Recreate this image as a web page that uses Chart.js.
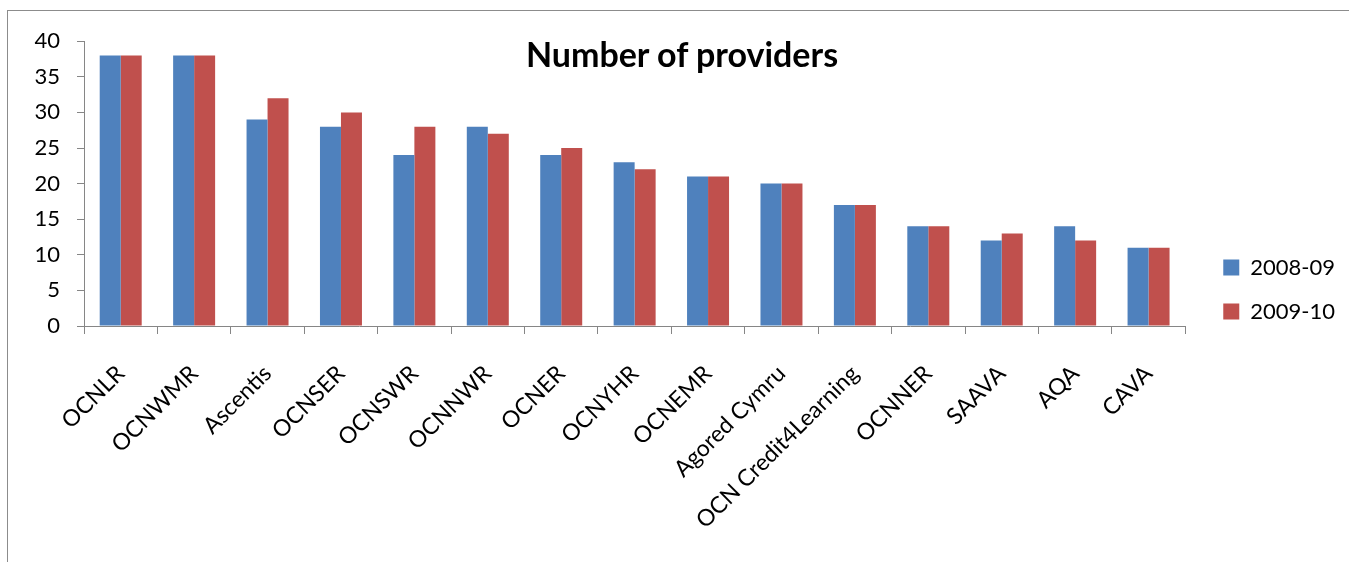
<!DOCTYPE html>
<html>
<head>
<meta charset="utf-8">
<script src="https://cdn.jsdelivr.net/npm/chart.js@4.4.1/dist/chart.umd.min.js"></script>
<style>
  html, body { margin: 0; padding: 0; background: #fff; overflow: hidden; }
  body { width: 1349px; height: 562px; position: relative; }
  #frame {
    position: absolute; left: 7px; top: 10px;
    width: 1400px; height: 600px;
    border: 1px solid #8c8c8c; box-sizing: border-box;
  }
  #chart { position: absolute; left: 0; top: 0; }
  #title {
    position: absolute; left: 0; width: 1364px; top: 35px;
    text-align: center; font: bold 34px Lato; line-height: 38px; color: #000;
  }
</style>
</head>
<body>
<div id="frame">
  <canvas id="chart" width="1341" height="551"></canvas>
</div>
<div id="title">Number of providers</div>
<script>
// ================================
// DATA
// ================================
const providers = [
  "OCNLR", "OCNWMR", "Ascentis", "OCNSER", "OCNSWR", "OCNNWR", "OCNER",
  "OCNYHR", "OCNEMR", "Agored Cymru", "OCN Credit4Learning", "OCNNER",
  "SAAVA", "AQA", "CAVA"
];
const providers0809 = [38, 38, 29, 28, 24, 28, 24, 23, 21, 20, 17, 14, 12, 14, 11];
const providers0910 = [38, 38, 32, 30, 28, 27, 25, 22, 21, 20, 17, 14, 13, 12, 11];
const yTicks = [0, 5, 10, 15, 20, 25, 30, 35, 40];

// ================================
// STYLE
// ================================
const AXIS = "#868686";
const FONT = { family: "Lato", size: 22 };

// shift the legend into place (Excel puts it further right than Chart.js does)
const legendNudge = {
  id: "legendNudge",
  afterLayout(chart) {
    const lg = chart.legend;
    lg.left += 16; lg.right += 16;
    lg.top -= 11; lg.bottom -= 11;
  }
};

const ctx = document.getElementById("chart").getContext("2d");

new Chart(ctx, {
  type: "bar",
  data: {
    labels: providers,
    datasets: [
      { label: "2008-09", data: providers0809, backgroundColor: "#4F81BD" },
      { label: "2009-10", data: providers0910, backgroundColor: "#C0504D" }
    ]
  },
  options: {
    responsive: false,
    animation: false,
    categoryPercentage: 0.572,
    barPercentage: 1,
    layout: { padding: { top: 28, right: 20, bottom: 0, left: 0 } },
    plugins: {
      tooltip: { enabled: false },
      legend: {
        position: "right",
        labels: {
          boxWidth: 16,
          boxHeight: 16,
          padding: 22,
          color: "#000",
          font: FONT
        }
      }
    },
    scales: {
      x: {
        grid: { drawOnChartArea: false, tickLength: 8, color: AXIS, offset: true },
        border: { color: AXIS },
        ticks: {
          autoSkip: false,
          minRotation: 45,
          maxRotation: 45,
          color: "#000",
          font: { family: "Lato", size: 23 },
          padding: 26,
          labelOffset: 0
        },
        afterFit(scale) { scale.height = 236; }
      },
      y: {
        min: 0,
        max: 40,
        afterBuildTicks(scale) { scale.ticks = yTicks.map(v => ({ value: v })); },
        grid: { drawOnChartArea: false, tickLength: 7, color: AXIS },
        border: { color: AXIS },
        ticks: { color: "#000", font: FONT, padding: 17 },
        afterFit(scale) { scale.width = 76; }
      }
    }
  },
  plugins: [legendNudge]
});
</script>
</body>
</html>
